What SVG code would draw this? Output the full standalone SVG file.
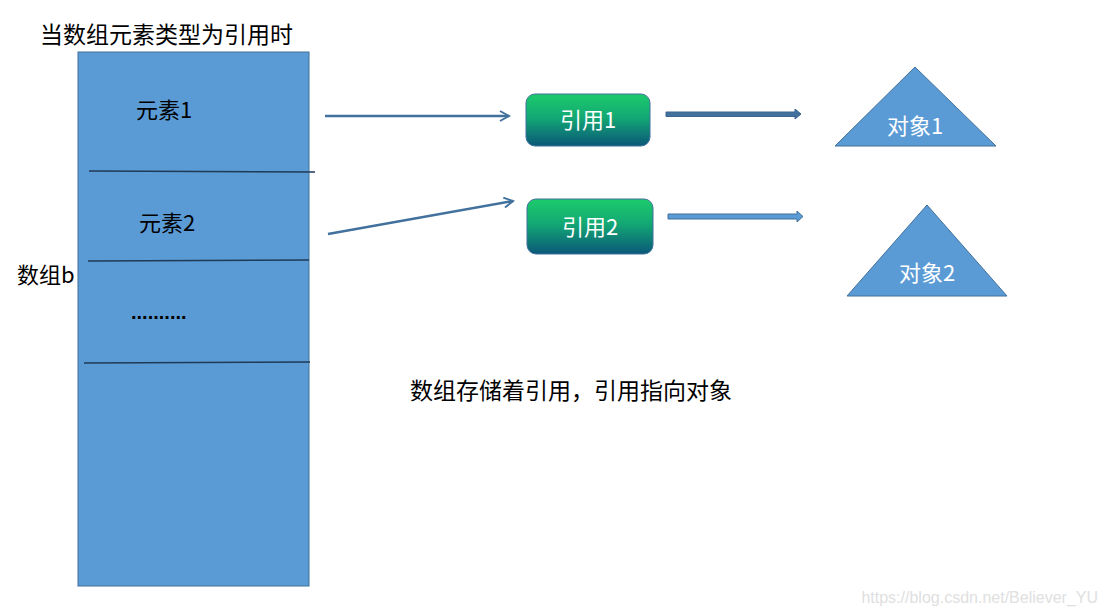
<svg xmlns="http://www.w3.org/2000/svg" width="1107" height="615" viewBox="0 0 1107 615">
<defs>
<linearGradient id="g" x1="0" y1="0" x2="0" y2="1">
<stop offset="0" stop-color="#1ccb6b"/>
<stop offset="0.45" stop-color="#13a874"/>
<stop offset="1" stop-color="#0a5878"/>
</linearGradient>
<marker id="ah" markerWidth="12" markerHeight="12" refX="10" refY="6" orient="auto" markerUnits="userSpaceOnUse">
<path d="M1,1 L10,6 L1,11" fill="none" stroke="#41719c" stroke-width="2"/>
</marker>
</defs>
<style>
text{font-family:"Noto Sans CJK SC","Liberation Sans",sans-serif;}
.k{fill:#000;font-size:22px;}
.big{font-size:23px;}
.w{fill:#fff;font-size:22px;text-anchor:middle;}
.sep{stroke:#1f3a57;stroke-width:1.3;}
.tri{fill:#5b9bd5;stroke:#41719c;stroke-width:1;}
.node{stroke:#41719c;stroke-width:1;fill:url(#g);}
.conn{stroke:#41719c;stroke-width:2.5;fill:none;}
</style>
<rect width="1107" height="615" fill="#fff"/>
<text class="k big" x="40" y="43">当数组元素类型为引用时</text>
<g id="array">
<rect x="78" y="52" width="231" height="534" fill="#5b9bd5" stroke="#41719c" stroke-width="1"/>
<line class="sep" x1="89" y1="171" x2="315" y2="172"/>
<line class="sep" x1="88" y1="261" x2="309" y2="260"/>
<line class="sep" x1="84" y1="363" x2="310" y2="362"/>
<text class="k" x="136" y="118">元素1</text>
<text class="k" x="139" y="231">元素2</text>
<text x="131" y="319" font-size="20" style="font-family:'Liberation Sans',sans-serif;font-weight:bold">..........</text>
</g>
<text class="k" x="17" y="283">数组b</text>
<g id="ref1">
<rect class="node" x="526" y="94" width="124" height="52" rx="9"/>
<text class="w" x="588" y="128">引用1</text>
</g>
<g id="ref2">
<rect class="node" x="527" y="199" width="126" height="55" rx="9"/>
<text class="w" x="590" y="235">引用2</text>
</g>
<g id="obj1">
<polygon class="tri" points="915,67 996,146 835,146"/>
<text class="w" x="915" y="134">对象1</text>
</g>
<g id="obj2">
<polygon class="tri" points="927,205 1007,296 847,296"/>
<text class="w" x="927" y="281">对象2</text>
</g>
<g id="connectors">
<line class="conn" x1="325" y1="116" x2="509" y2="116" marker-end="url(#ah)"/>
<line class="conn" x1="328" y1="234" x2="513" y2="201" marker-end="url(#ah)"/>
<path d="M666,112 L795,112 L795,109 L801,114 L795,119 L795,116.5 L666,116.5 Z" fill="#41719c" stroke="#3a6590" stroke-width="1"/>
<path d="M668,214 L797,214 L797,211 L803,216.5 L797,222 L797,219 L668,219 Z" fill="#5b9bd5" stroke="#41719c" stroke-width="1"/>
</g>
<text class="k big" x="410" y="399">数组存储着引用，引用指向对象</text>
<text x="1098" y="603" fill="#e0e0e0" font-size="16" text-anchor="end" style="font-family:'Liberation Sans',sans-serif">https://blog.csdn.net/Believer_YU</text>
</svg>
